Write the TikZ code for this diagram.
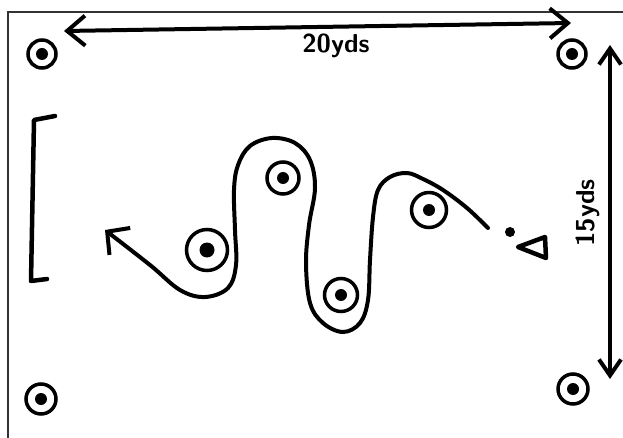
\documentclass[tikz,border=0pt]{standalone}
\usetikzlibrary{arrows.meta}
\tikzset{cone/.style={circle,draw,line width=3.5pt,minimum size=#1,inner sep=0pt,
 path picture={\fill (path picture bounding box.center) circle (6pt);}},
 cone/.default=28pt,
 ink/.style={line width=4pt,line cap=round,line join=round},
 measure/.style={ink,{Straight Barb[length=18pt,width=30pt]}-{Straight Barb[length=18pt,width=30pt]}},
 yds/.style={font=\sffamily\bfseries\fontsize{26}{28}\selectfont,inner sep=2pt},
 run/.style={ink,-{Straight Barb[length=16pt,width=34pt]}},
 edge/.style={line width=1.4pt,draw=black!80}}

\begin{document}
\begin{tikzpicture}[x=1pt,y=-1pt]
\useasboundingbox (0,0) rectangle (623,438);
% field edges
\draw[edge] (623,12) -- (8,12) -- (8,438);
% corner cones
\node[cone] (tl) at (42,54) {};
\node[cone] (tr) at (572,54) {};
\node[cone=30pt] (bl) at (41,399) {};
\node[cone=30pt] (br) at (573,389) {};
% dimensions
\coordinate (wl) at (64,31);
\coordinate (wr) at (571,23);
\draw[measure] (wl) -- (wr);
\node[yds] (width) at (336,46) {20yds};
\coordinate (ht) at (610,45);
\coordinate (hb) at (610,379);
\draw[measure,{Straight Barb[length=16pt,width=22pt]}-{Straight Barb[length=16pt,width=22pt]}] (ht) -- (hb);
\node[yds,rotate=90] (height) at (588,213) {15yds};
% goal
\draw[ink,line width=4.5pt] (55,116) -- (34,120) -- (31,281) -- (47,279);
% slalom cones
\node[cone=41pt,path picture={\fill (path picture bounding box.center) circle (7.5pt);}] (p1) at (207,250) {};
\node[cone=32pt] (p2) at (283,178) {};
\node[cone=33pt] (p3) at (341,295) {};
\node[cone=35pt] (p4) at (429,210) {};
% start: ball and player
\fill (510,232) circle (5pt) coordinate (ball);
\draw[ink,line width=4.5pt] (518,247) -- (545,237) -- (546,258) -- cycle;
% dribble
\draw[run] plot[smooth,tension=0.6] coordinates {(488,228) (467,208) (443,190)
 (423,179) (407,173) (390,177) (378,190) (373,217) (370,260) (368,300) (360,323)
 (343,332) (323,323) (310,303) (306,263) (309,225) (315,188) (310,160) (295,143)
 (272,138) (250,146) (238,165) (234,190) (235,230) (236,265) (228,288) (205,297)
 (180,290) (150,265) (105,230)};
\end{tikzpicture}
\end{document}
